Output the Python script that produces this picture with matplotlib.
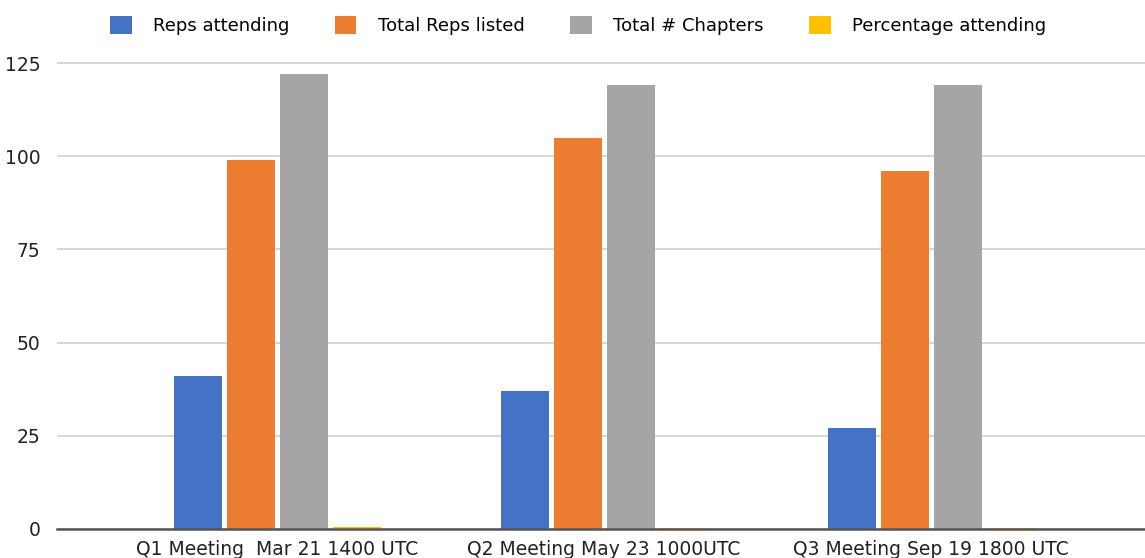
import numpy as np
import matplotlib.pyplot as plt

# data
meetings = ['Q1 Meeting  Mar 21 1400 UTC', 'Q2 Meeting May 23 1000UTC', 'Q3 Meeting Sep 19 1800 UTC']
reps_attending = [41, 37, 27]
total_reps = [99, 105, 96]
total_chapters = [122, 119, 119]
pct_attending = [0.41, 0.35, 0.28]

series = [reps_attending, total_reps, total_chapters, pct_attending]
names = ['Reps attending', 'Total Reps listed', 'Total # Chapters', 'Percentage attending']
colors = ['#4472C4', '#ED7D31', '#A5A5A5', '#FFC000']

plt.rcParams['font.family'] = ['Liberation Sans Narrow', 'DejaVu Sans']

fig = plt.figure(figsize=(11.45, 5.58), dpi=100)
ytop = 126
ax = fig.add_axes([57/1145, 29/558, 1 - 57/1145, 3.728*ytop/558])

x = np.arange(len(meetings))
step = 0.162
width = 0.147
for i, (vals, name, c) in enumerate(zip(series, names, colors)):
    # percentage values are tiny, they sit under the axis line
    z = 2 if i == 3 else 3
    ax.bar(x + (i - 1.5)*step, vals, width, color=c, label=name, zorder=z)

ax.set_xlim(-0.673, 2.654)
ax.set_ylim(0, ytop)
ax.set_yticks([0, 25, 50, 75, 100, 125])
ax.set_xticks(x)
ax.set_xticklabels(meetings)
ax.yaxis.grid(True, color='#d4d4d4', linewidth=1.3, zorder=0)
for s in ['top', 'right', 'left']:
    ax.spines[s].set_visible(False)
ax.spines['bottom'].set_color('#555555')
ax.spines['bottom'].set_linewidth(1.8)
ax.spines['bottom'].set_zorder(4)
ax.tick_params(axis='both', length=0, labelsize=13.5, colors='#222222')
ax.tick_params(axis='y', pad=12)
ax.tick_params(axis='x', pad=8)

fig.legend(loc='upper center', bbox_to_anchor=(0.505, 1.0), ncol=4, frameon=False,
           fontsize=13, handlelength=1.2, handleheight=1.1, columnspacing=2.5,
           handletextpad=1.2)

fig.savefig('out.png', dpi=100)
